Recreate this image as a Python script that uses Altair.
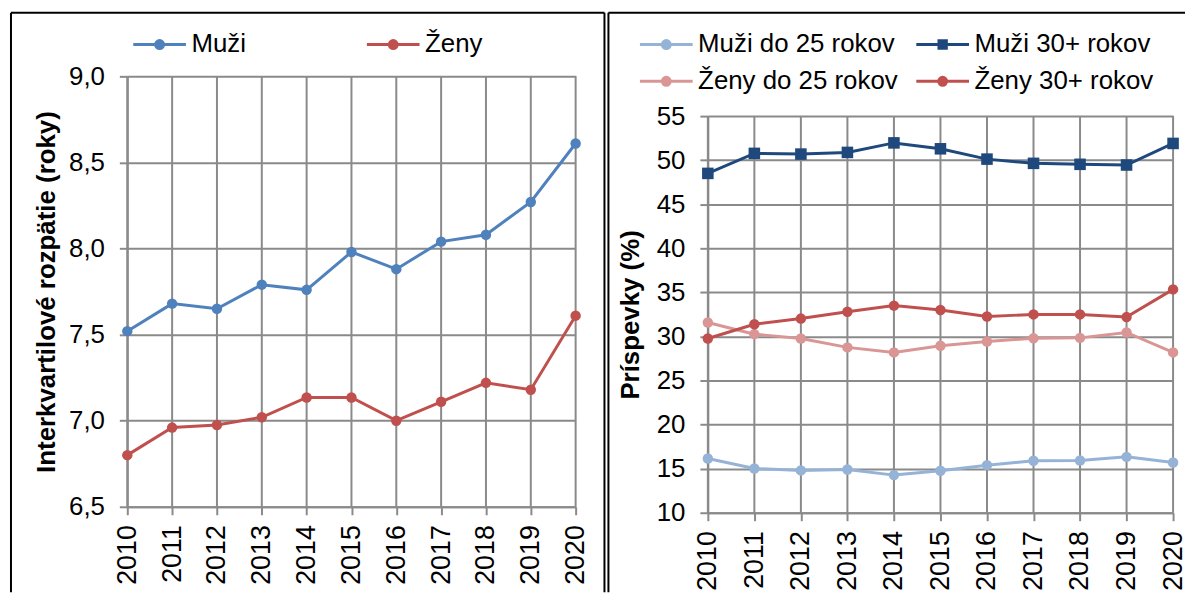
import altair as alt
import pandas as pd

# ---------------- data ----------------
years = list(range(2010, 2021))

left_names = ["Muži", "Ženy"]
muzi = [7.52, 7.68, 7.65, 7.79, 7.76, 7.98, 7.88, 8.04, 8.08, 8.27, 8.61]
zeny = [6.80, 6.96, 6.975, 7.02, 7.135, 7.135, 7.00, 7.11, 7.22, 7.18, 7.61]
left_ticks = [6.5, 7.0, 7.5, 8.0, 8.5, 9.0]

right_names = ["Muži do 25 rokov", "Muži 30+ rokov", "Ženy do 25 rokov", "Ženy 30+ rokov"]
muzi_do25 = [16.15, 15.02, 14.8, 14.9, 14.27, 14.76, 15.4, 15.9, 15.93, 16.34, 15.7]
muzi_30 = [48.5, 50.77, 50.69, 50.88, 51.96, 51.29, 50.12, 49.64, 49.53, 49.45, 51.9]
zeny_do25 = [31.58, 30.26, 29.77, 28.76, 28.19, 28.94, 29.43, 29.8, 29.84, 30.45, 28.19]
zeny_30 = [29.77, 31.39, 32.03, 32.8, 33.5, 33.0, 32.26, 32.5, 32.5, 32.2, 35.34]
right_ticks = [10, 15, 20, 25, 30, 35, 40, 45, 50, 55]

left_title = "Interkvartilové rozpätie (roky)"
right_title = "Príspevky (%)"

# ---------------- styles ----------------
FONT = "Liberation Sans"
GRID = "#8a8a8a"
left_colors = ["#4F81BD", "#C0504D"]
right_colors = ["#95B3D7", "#1F497D", "#D99694", "#C0504D"]
right_shapes = ["circle", "square", "circle", "circle"]

SYM = 53  # legend symbol width in px
CIRCLE_PATH = "M-1,0H1M0.15,0A0.15,0.15,0,1,1,-0.15,0A0.15,0.15,0,1,1,0.15,0Z"
SQUARE_PATH = "M-1,0H1M-0.14,-0.14H0.14V0.14H-0.14Z"

left_df = pd.DataFrame({
    "rok": years * 2,
    "hodnota": muzi + zeny,
    "skupina": [left_names[0]] * 11 + [left_names[1]] * 11,
})
right_series = [muzi_do25, muzi_30, zeny_do25, zeny_30]
right_df = pd.DataFrame({
    "rok": years * 4,
    "hodnota": sum(right_series, []),
    "skupina": sum([[n] * 11 for n in right_names], []),
})
years_df = pd.DataFrame({"rok": years})
one = pd.DataFrame({"a": [0]})


def pick_expr(names, vals):
    expr = f"'{vals[-1]}'"
    for n, v in reversed(list(zip(names[:-1], vals[:-1]))):
        expr = f"datum.value === '{n}' ? '{v}' : ({expr})"
    return expr


def legend_for(names, colors, shapes, lx, ly, col_pad, row_pad):
    paths = [SQUARE_PATH if s == "square" else CIRCLE_PATH for s in shapes]
    col_expr = pick_expr(names, colors)
    shp_expr = pick_expr(names, paths)
    return alt.Legend(
        title=None, orient="none", legendX=lx, legendY=ly,
        direction="horizontal", columns=2,
        columnPadding=col_pad, rowPadding=row_pad, padding=0,
        clipHeight=37, labelFont=FONT, labelFontSize=26, labelColor="black",
        labelOffset=4, labelLimit=0, symbolSize=SYM * SYM, symbolStrokeWidth=3,
        symbolType={"expr": shp_expr},
        symbolFillColor={"expr": col_expr},
        symbolStrokeColor={"expr": col_expr},
        symbolOpacity=1,
    )


def border(x1, x2, y1, y2):
    return alt.Chart(one).mark_rule(color="black", strokeWidth=2).encode(
        x=alt.value(x1), x2=alt.value(x2), y=alt.value(y1), y2=alt.value(y2)
    )


def panel(df, names, colors, shapes, domain, ticks, label_expr, title,
          width, height, y_top, title_x, legend, borders):
    # y_top: pixel offset of the plot's top edge below the panel origin
    x = alt.X("rok:Q", scale=alt.Scale(domain=[2010, 2020], nice=False, zero=False),
              axis=alt.Axis(values=years, format="d", labelAngle=-90, labelFlush=False,
                            labelOverlap=False, labelPadding=10, labelFontSize=27,
                            title=None, grid=False))
    y = alt.Y("hodnota:Q",
              scale=alt.Scale(domain=domain, nice=False, zero=False, range=[height, y_top]),
              axis=alt.Axis(values=ticks, labelExpr=label_expr, title=title,
                            titleX=title_x, titleY=(height + y_top) / 2, titleAngle=-90,
                            titleAlign="center", titleBaseline="middle",
                            labelFlush=False))
    color = alt.Color("skupina:N", scale=alt.Scale(domain=names, range=colors), legend=legend)
    vgrid = alt.Chart(years_df).mark_rule(color=GRID, strokeWidth=2).encode(
        x=alt.X("rok:Q"), y=alt.value(y_top), y2=alt.value(height)
    )
    lines = alt.Chart(df).mark_line(strokeWidth=3).encode(x=x, y=y, color=color)
    layers = [vgrid, lines]
    for shape, size in (("circle", 110), ("square", 135)):
        members = [n for n, s in zip(names, shapes) if s == shape]
        if not members:
            continue
        layers.append(
            alt.Chart(df).transform_filter(
                alt.FieldOneOfPredicate(field="skupina", oneOf=members)
            ).mark_point(filled=True, opacity=1, shape=shape, size=size).encode(
                x=x, y=y, color=color
            )
        )
    return alt.layer(*layers, *borders).properties(width=width, height=height)


# both panel origins sit at page y = 75
# left panel: plot origin at page (126, 75), plot bottom at 508
left = panel(
    left_df, left_names, left_colors, ["circle", "circle"], [6.5, 9.0], left_ticks,
    "replace(format(datum.value, '.1f'), '.', ',')", left_title,
    451, 433, 0, -81,
    legend_for(left_names, left_colors, ["circle", "circle"], 4.5, -50.5, 120, 0),
    [border(-117, -117, -64, 519), border(-117, 480, -64, -64), border(480, 480, -64, 519)],
)

# right panel: x origin at page 710, plot spans page y 115..514
right = panel(
    right_df, right_names, right_colors, right_shapes, [10, 55], right_ticks,
    "format(datum.value, 'd')", right_title,
    468, 439, 40, -78,
    legend_for(right_names, right_colors, right_shapes, -69.8, -50.5, 17, 0),
    [border(-100, -100, -64, 519), border(-100, 480, -64, -64)],
)

chart = alt.hconcat(left, right, spacing=2).resolve_scale(
    x="independent", y="independent", color="independent"
).resolve_legend(color="independent").properties(
    padding={"left": 2, "top": 2, "right": 0, "bottom": 0}
).configure_view(stroke=None).configure_axis(
    gridColor=GRID, gridWidth=2, domainColor=GRID, domainWidth=2,
    tickColor=GRID, tickWidth=2, tickSize=8,
    labelFont=FONT, labelFontSize=26, labelColor="black", labelPadding=15,
    titleFont=FONT, titleFontSize=26, titleFontWeight="bold", titleColor="black",
)

chart.save("out.html", embed_options={"renderer": "svg", "actions": False})
